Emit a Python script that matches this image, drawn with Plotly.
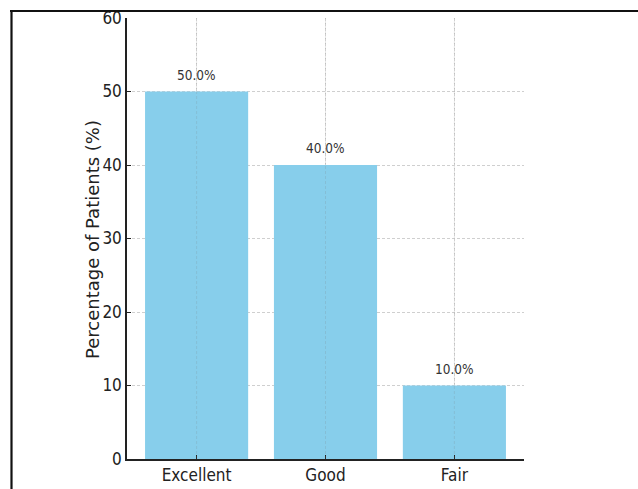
import plotly.graph_objects as go

# Patient outcome ratings and their share of patients
ratings = ["Excellent", "Good", "Fair"]
percentages = [50.0, 40.0, 10.0]
y_ticks = [0, 10, 20, 30, 40, 50, 60]

W, H = 638, 489
L, R, T, B = 127, 114, 18, 30

fig = go.Figure()
fig.add_trace(go.Bar(
    x=ratings,
    y=percentages,
    width=0.8,
    marker=dict(color="#87CEEB", line=dict(width=0)),
    hoverinfo="skip",
))

# value labels above each bar
for r, v in zip(ratings, percentages):
    fig.add_annotation(
        x=r, y=v, text=f"{v:.1f}%", showarrow=False,
        yanchor="bottom", yshift=7,
        font=dict(family="DejaVu Sans Condensed, DejaVu Sans", size=13.5, color="#333333"),
    )

# faint vertical grid drawn across the bars as well
for r in ratings:
    fig.add_shape(type="line", xref="x", yref="paper", x0=r, x1=r, y0=0, y1=1,
                  layer="above", line=dict(color="rgba(120,120,120,0.18)", width=1, dash="3px,2px"))

plot_w = W - L - R
plot_h = H - T - B
def px_x(px):
    return (px - L) / plot_w
def px_y(py):
    return (H - B - py) / plot_h

# y-axis title
fig.add_annotation(
    xref="paper", yref="paper", x=px_x(92), y=px_y(240),
    text="Percentage of Patients (%)", textangle=-90, showarrow=False,
    xanchor="center", yanchor="middle",
    font=dict(family="DejaVu Sans", size=18, color="#222222"),
)

# outer frame lines (top and left)
fig.add_shape(type="line", xref="paper", yref="paper",
              x0=px_x(10), x1=px_x(640), y0=px_y(11), y1=px_y(11),
              line=dict(color="#111111", width=2.2))
fig.add_shape(type="line", xref="paper", yref="paper",
              x0=px_x(11.5), x1=px_x(11.5), y0=px_y(10), y1=px_y(495),
              line=dict(color="#111111", width=2.2))

tick_font = dict(family="DejaVu Sans Condensed, DejaVu Sans", size=17, color="#222222")

fig.update_layout(
    width=W, height=H,
    margin=dict(l=L, r=R, t=T, b=B, pad=0, autoexpand=False),
    paper_bgcolor="white",
    plot_bgcolor="white",
    showlegend=False,
    bargap=0.2,
    xaxis=dict(
        range=[-0.54, 2.54],
        automargin=False,
        showline=True, linecolor="#222222", linewidth=1.5,
        ticks="inside", ticklen=4, tickcolor="#222222",
        showgrid=True, gridcolor="#cfcfcf", gridwidth=1, griddash="3px,2px",
        tickfont=tick_font,
        zeroline=False,
    ),
    yaxis=dict(
        range=[0, 60],
        automargin=False,
        tickvals=y_ticks,
        showline=True, linecolor="#222222", linewidth=1.5,
        ticks="inside", ticklen=4, tickcolor="#222222",
        showgrid=True, gridcolor="#cfcfcf", gridwidth=1, griddash="3px,2px",
        tickfont=tick_font,
        zeroline=False,
    ),
)

fig.write_html("out.html")
